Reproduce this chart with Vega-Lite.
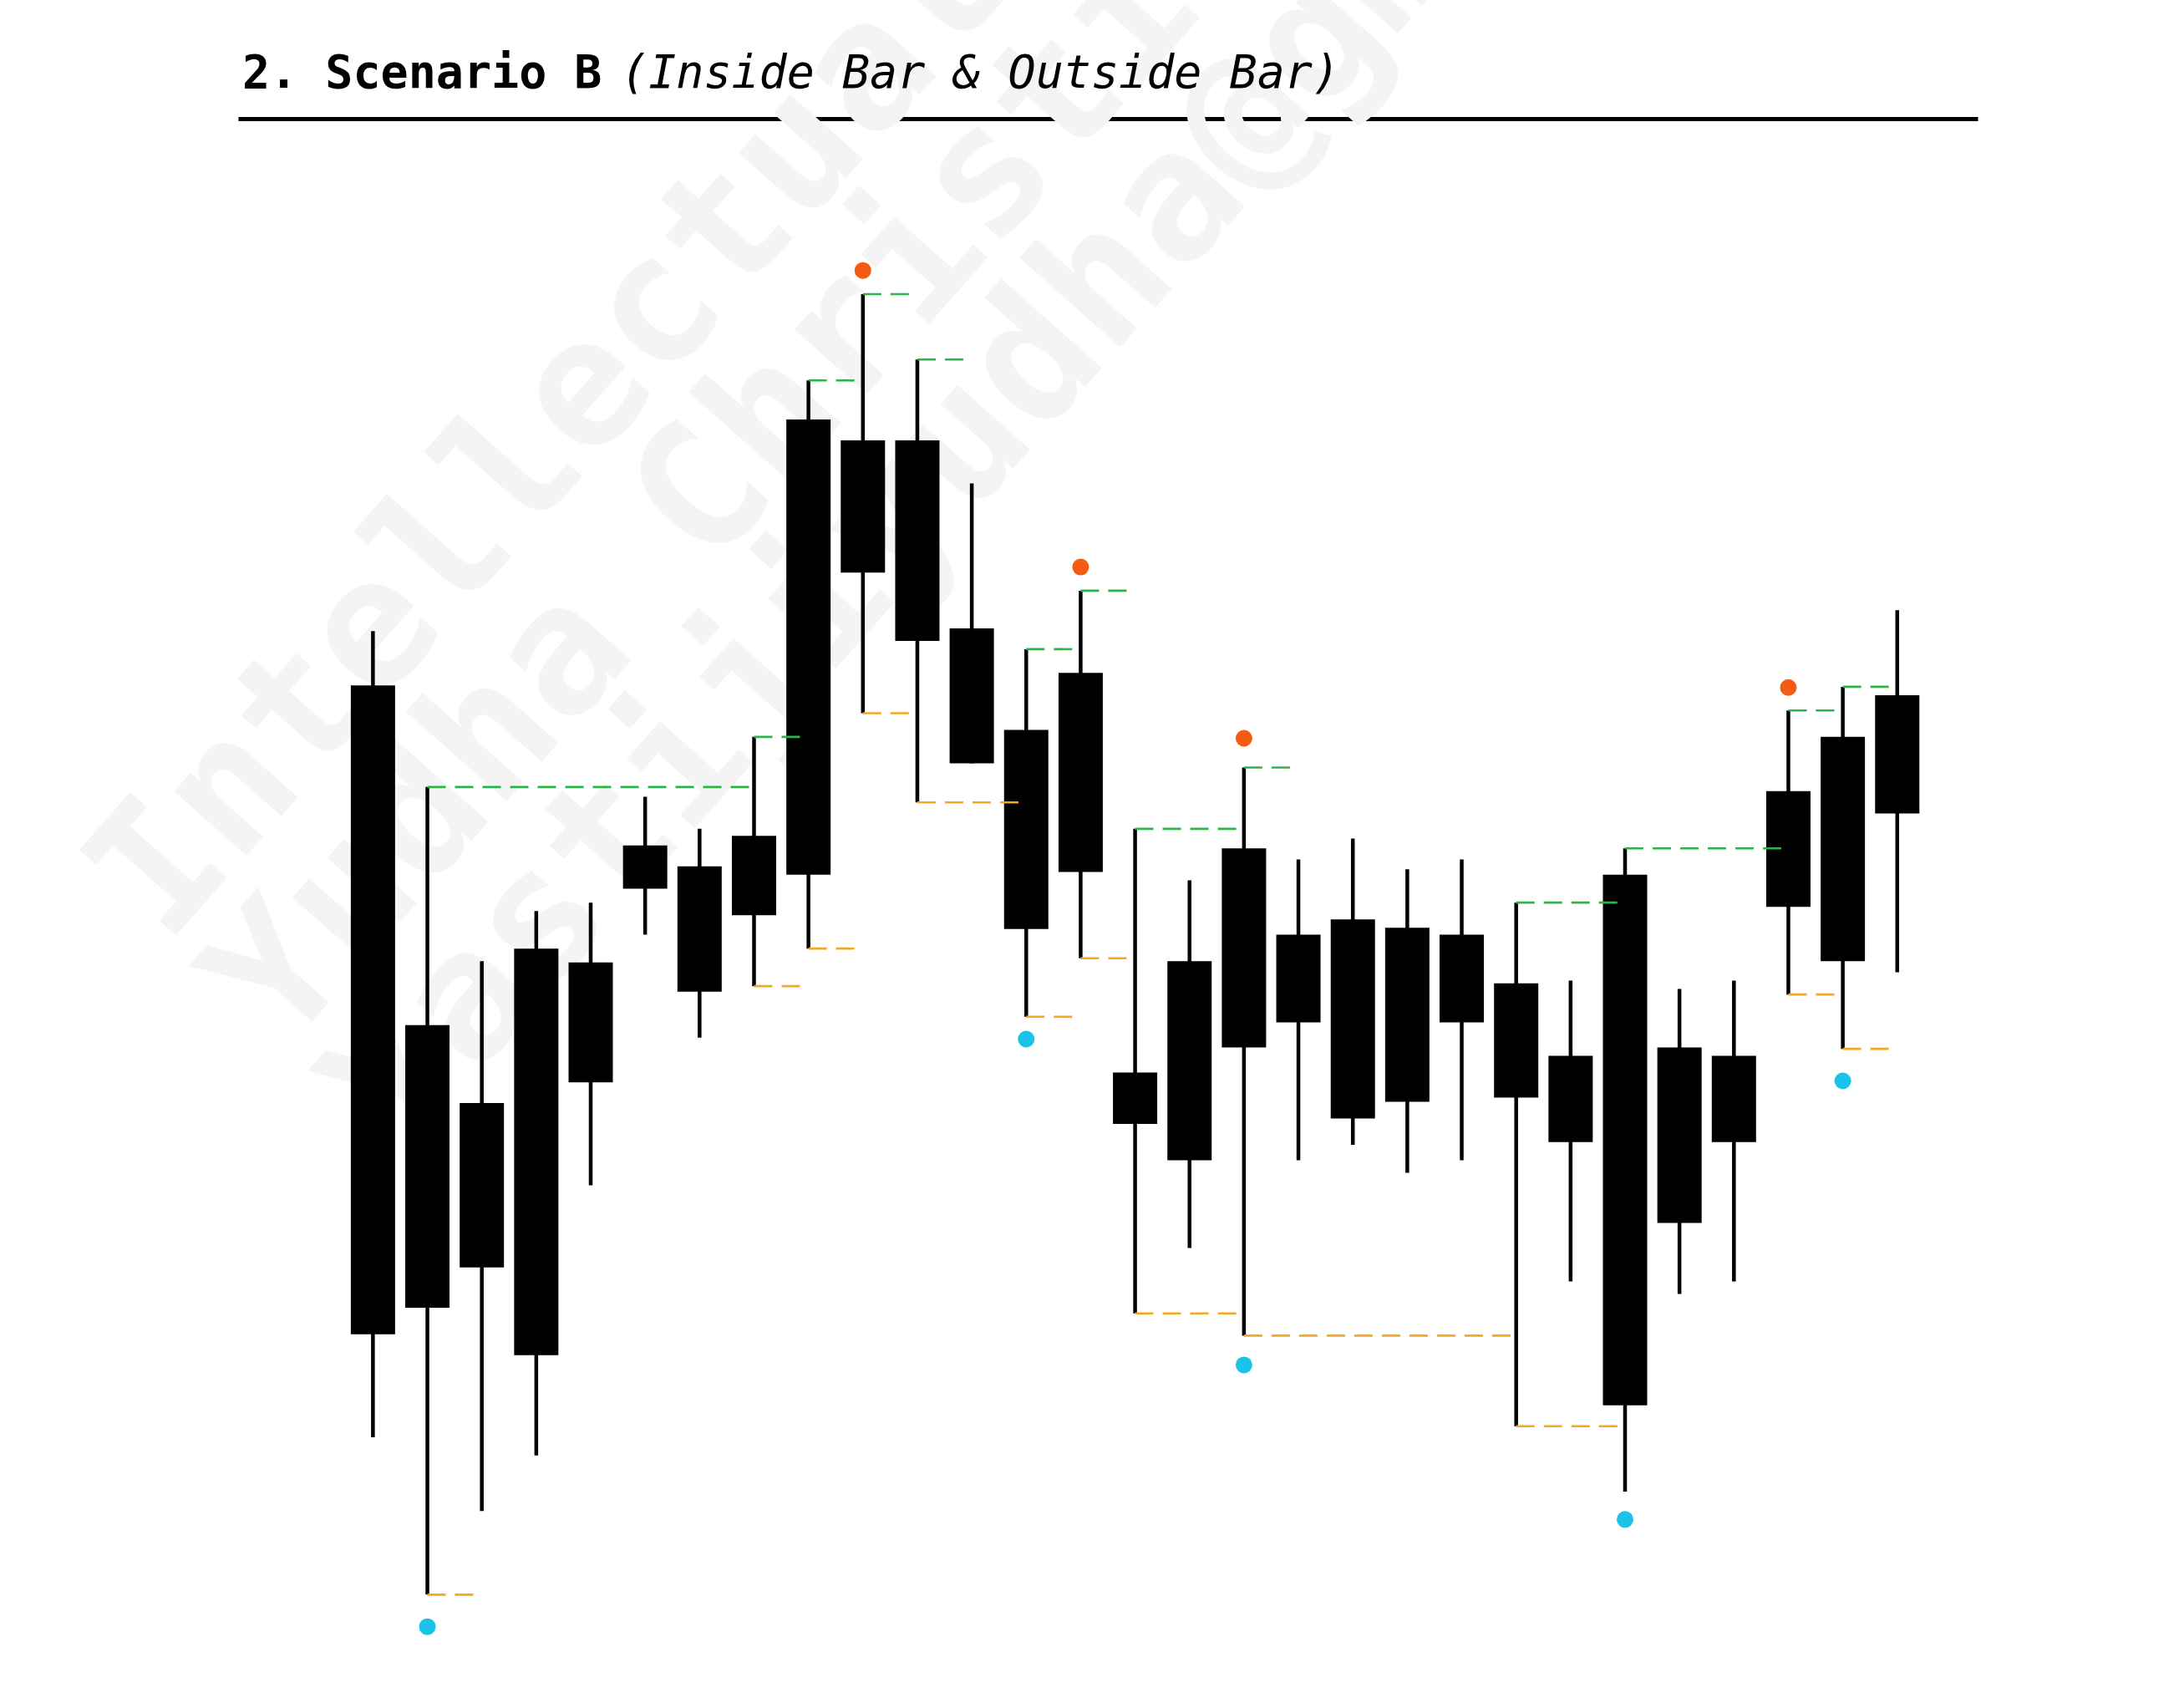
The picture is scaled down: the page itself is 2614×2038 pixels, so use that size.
{
  "$schema": "https://vega.github.io/schema/vega-lite/v6.json",
  "width": 2082,
  "height": 1858,
  "autosize": {"type": "none"},
  "padding": {"left": 285, "top": 142, "right": 247, "bottom": 38},
  "background": "white",
  "view": {"stroke": null},
  "config": {
    "axis": {"domain": true, "domainColor": "#000000", "domainWidth": 5, "ticks": false, "labels": false, "grid": false, "zindex": 1}
  },
  "datasets": {
    "watermark": [
      {"text": "Intellectual Property\nYudha Christian\nYastijiyudha@gmail.com"}
    ],
    "heading": [
      {"label": "2. Scenario B"}
    ],
    "subheading": [
      {"label": "(Inside Bar & Outside Bar)"}
    ],
    "candles": [
      {"i": 0, "open": 70.8, "high": 74.7, "low": 16.8, "close": 24.2},
      {"i": 1, "open": 26.1, "high": 63.5, "low": 5.5, "close": 46.4},
      {"i": 2, "open": 40.8, "high": 51.0, "low": 11.5, "close": 29.0},
      {"i": 3, "open": 22.7, "high": 54.6, "low": 15.5, "close": 51.9},
      {"i": 4, "open": 50.9, "high": 55.2, "low": 34.9, "close": 42.3},
      {"i": 5, "open": 56.2, "high": 62.8, "low": 52.9, "close": 59.3},
      {"i": 6, "open": 57.8, "high": 60.5, "low": 45.5, "close": 48.8},
      {"i": 7, "open": 54.3, "high": 67.1, "low": 49.2, "close": 60.0},
      {"i": 8, "open": 57.2, "high": 92.7, "low": 51.9, "close": 89.9},
      {"i": 9, "open": 88.4, "high": 98.9, "low": 68.8, "close": 78.9},
      {"i": 10, "open": 88.4, "high": 94.2, "low": 62.4, "close": 74.0},
      {"i": 11, "open": 74.9, "high": 85.3, "low": 65.2, "close": 65.2},
      {"i": 12, "open": 67.6, "high": 73.4, "low": 47.0, "close": 53.3},
      {"i": 13, "open": 57.4, "high": 77.6, "low": 51.2, "close": 71.7},
      {"i": 14, "open": 43.0, "high": 60.5, "low": 25.7, "close": 39.3},
      {"i": 15, "open": 36.7, "high": 56.8, "low": 30.4, "close": 51.0},
      {"i": 16, "open": 44.8, "high": 64.9, "low": 24.1, "close": 59.1},
      {"i": 17, "open": 52.9, "high": 58.3, "low": 36.7, "close": 46.6},
      {"i": 18, "open": 54.0, "high": 59.8, "low": 37.8, "close": 39.7},
      {"i": 19, "open": 40.9, "high": 57.6, "low": 35.8, "close": 53.4},
      {"i": 20, "open": 52.9, "high": 58.3, "low": 36.7, "close": 46.6},
      {"i": 21, "open": 49.4, "high": 55.2, "low": 17.6, "close": 41.2},
      {"i": 22, "open": 44.2, "high": 49.6, "low": 28.0, "close": 38.0},
      {"i": 23, "open": 19.1, "high": 59.1, "low": 12.9, "close": 57.2},
      {"i": 24, "open": 44.8, "high": 49.0, "low": 27.1, "close": 32.2},
      {"i": 25, "open": 38.0, "high": 49.6, "low": 28.0, "close": 44.2},
      {"i": 26, "open": 54.9, "high": 69.0, "low": 48.6, "close": 63.2},
      {"i": 27, "open": 51.0, "high": 70.7, "low": 44.7, "close": 67.1},
      {"i": 28, "open": 61.6, "high": 76.2, "low": 50.2, "close": 70.1}
    ],
    "levels": [
      {"from": 1, "to": 7, "level": 63.5, "kind": "high"},
      {"from": 7, "to": 8, "level": 67.1, "kind": "high"},
      {"from": 8, "to": 9, "level": 92.7, "kind": "high"},
      {"from": 9, "to": 10, "level": 98.9, "kind": "high"},
      {"from": 10, "to": 11, "level": 94.2, "kind": "high"},
      {"from": 12, "to": 13, "level": 73.4, "kind": "high"},
      {"from": 13, "to": 14, "level": 77.6, "kind": "high"},
      {"from": 14, "to": 16, "level": 60.5, "kind": "high"},
      {"from": 16, "to": 17, "level": 64.9, "kind": "high"},
      {"from": 21, "to": 23, "level": 55.2, "kind": "high"},
      {"from": 23, "to": 26, "level": 59.1, "kind": "high"},
      {"from": 26, "to": 27, "level": 69.0, "kind": "high"},
      {"from": 27, "to": 28, "level": 70.7, "kind": "high"},
      {"from": 1, "to": 2, "level": 5.5, "kind": "low"},
      {"from": 7, "to": 8, "level": 49.2, "kind": "low"},
      {"from": 8, "to": 9, "level": 51.9, "kind": "low"},
      {"from": 9, "to": 10, "level": 68.8, "kind": "low"},
      {"from": 10, "to": 12, "level": 62.4, "kind": "low"},
      {"from": 12, "to": 13, "level": 47.0, "kind": "low"},
      {"from": 13, "to": 14, "level": 51.2, "kind": "low"},
      {"from": 14, "to": 16, "level": 25.7, "kind": "low"},
      {"from": 16, "to": 21, "level": 24.1, "kind": "low"},
      {"from": 21, "to": 23, "level": 17.6, "kind": "low"},
      {"from": 26, "to": 27, "level": 48.6, "kind": "low"},
      {"from": 27, "to": 28, "level": 44.7, "kind": "low"}
    ],
    "signals": [
      {"i": 9, "value": 100.6, "kind": "top"},
      {"i": 13, "value": 79.3, "kind": "top"},
      {"i": 16, "value": 67.0, "kind": "top"},
      {"i": 26, "value": 70.65, "kind": "top"},
      {"i": 1, "value": 3.2, "kind": "bottom"},
      {"i": 12, "value": 45.4, "kind": "bottom"},
      {"i": 16, "value": 22.0, "kind": "bottom"},
      {"i": 23, "value": 10.9, "kind": "bottom"},
      {"i": 27, "value": 42.4, "kind": "bottom"}
    ]
  },
  "layer": [
    {
      "data": {"name": "watermark"},
      "mark": {"type": "text", "font": "DejaVu Sans Mono", "fontWeight": "bold", "fontSize": 212, "color": "#f4f4f4", "angle": 311.5, "align": "left", "baseline": "alphabetic", "lineBreak": "\n", "lineHeight": 190},
      "encoding": {
        "x": {"datum": -3.8, "type": "quantitative", "scale": {"domain": [-2.4, 29.4], "nice": false, "zero": false}, "axis": {"orient": "top", "title": null}},
        "y": {"datum": 52.04, "type": "quantitative", "scale": {"domain": [0, 111.5], "nice": false, "zero": false}, "axis": null},
        "text": {"field": "text"}
      }
    },
    {
      "data": {"name": "candles"},
      "mark": {"type": "rule", "color": "#000000", "strokeWidth": 4.5},
      "encoding": {
        "x": {"field": "i", "type": "quantitative", "axis": {"orient": "top", "title": null}},
        "y": {"field": "high", "type": "quantitative", "axis": null},
        "y2": {"field": "low"}
      }
    },
    {
      "data": {"name": "candles"},
      "mark": {"type": "bar", "color": "#000000", "size": 53},
      "encoding": {
        "x": {"field": "i", "type": "quantitative", "axis": {"orient": "top", "title": null}},
        "y": {"field": "open", "type": "quantitative", "axis": null},
        "y2": {"field": "close"}
      }
    },
    {
      "data": {"name": "levels"},
      "mark": {"type": "rule", "strokeWidth": 2.6, "strokeDash": [22, 11]},
      "encoding": {
        "x": {"field": "from", "type": "quantitative", "axis": {"orient": "top", "title": null}},
        "x2": {"field": "to"},
        "y": {"field": "level", "type": "quantitative", "axis": null},
        "color": {"field": "kind", "type": "nominal", "scale": {"domain": ["high", "low", "top", "bottom"], "range": ["#2bb44a", "#f5a623", "#f45d11", "#1cc3e8"]}, "legend": null}
      }
    },
    {
      "data": {"name": "signals"},
      "mark": {"type": "point", "filled": true, "opacity": 1, "size": 400, "shape": "circle"},
      "encoding": {
        "x": {"field": "i", "type": "quantitative", "axis": {"orient": "top", "title": null}},
        "y": {"field": "value", "type": "quantitative", "axis": null},
        "color": {"field": "kind", "type": "nominal", "scale": {"domain": ["high", "low", "top", "bottom"], "range": ["#2bb44a", "#f5a623", "#f45d11", "#1cc3e8"]}, "legend": null}
      }
    },
    {
      "data": {"name": "heading"},
      "mark": {"type": "text", "font": "DejaVu Sans Mono", "fontWeight": "bold", "fontSize": 55, "color": "#000000", "align": "left", "baseline": "alphabetic"},
      "encoding": {
        "x": {"datum": -2.4, "type": "quantitative", "axis": {"orient": "top", "title": null}},
        "y": {"datum": 113.72, "type": "quantitative", "axis": null},
        "text": {"field": "label"}
      }
    },
    {
      "data": {"name": "subheading"},
      "mark": {"type": "text", "font": "DejaVu Sans Mono", "fontStyle": "italic", "fontWeight": "normal", "fontSize": 55, "color": "#000000", "align": "left", "baseline": "alphabetic"},
      "encoding": {
        "x": {"datum": 4.553, "type": "quantitative", "axis": {"orient": "top", "title": null}},
        "y": {"datum": 113.72, "type": "quantitative", "axis": null},
        "text": {"field": "label"}
      }
    }
  ]
}
